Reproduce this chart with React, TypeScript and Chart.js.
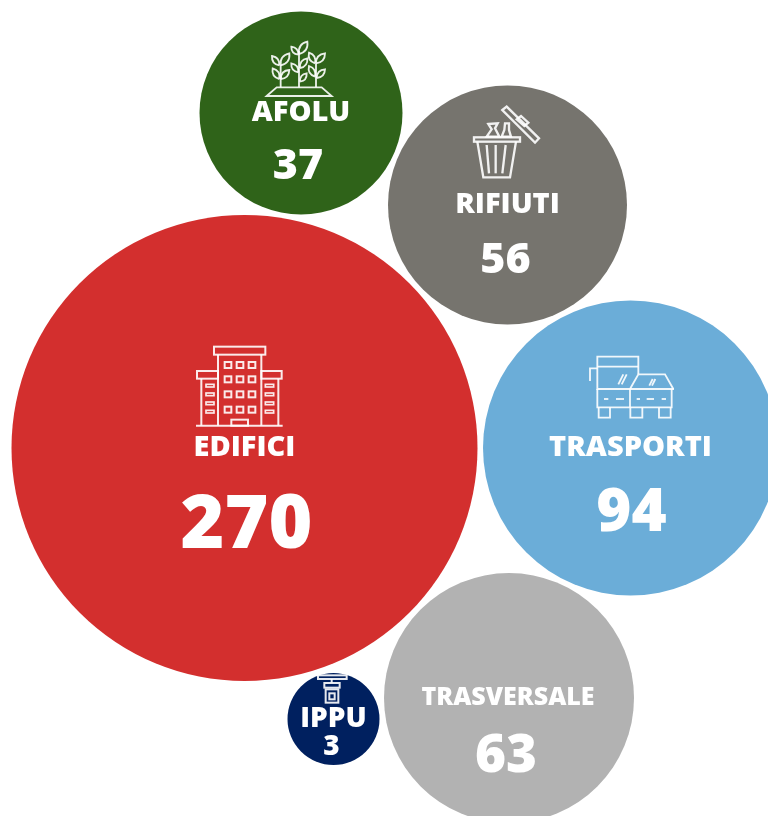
import React, { useEffect, useRef } from "react";
import { Chart, registerables } from "chart.js";

Chart.register(...registerables);

const categories = ["AFOLU", "RIFIUTI", "EDIFICI", "TRASPORTI", "TRASVERSALE", "IPPU"];
const values = [37, 56, 270, 94, 63, 3];
const bubbleX = [301, 507.5, 244.5, 630.5, 509, 333.5];
const bubbleY = [113, 205, 448, 448, 698, 719];
const bubbleR = [101.5, 119.5, 233, 147.5, 125, 46];
const colors = ["#2F6319", "#76746E", "#D32F2E", "#6BADD8", "#B2B2B2", "#00205F"];

type Ctx = CanvasRenderingContext2D;

const labelStyles = [
  { dx: 0, dy: 0, size: 29, vdx: -3, vdy: 54, vsize: 43 },
  { dx: 0, dy: 0, size: 29, vdx: -2, vdy: 56, vsize: 43 },
  { dx: 0, dy: 0, size: 29, vdx: 2, vdy: 79, vsize: 75 },
  { dx: 0, dy: 0, size: 29, vdx: 1, vdy: 66, vsize: 60 },
  { dx: -1, dy: 0, size: 25, vdx: -3, vdy: 59, vsize: 53 },
  { dx: 0, dy: 0, size: 28, vdx: -2, vdy: 28, vsize: 28 },
];

function poly(c: Ctx, pts: number[], close = true) {
  c.beginPath();
  c.moveTo(pts[0], pts[1]);
  for (let i = 2; i < pts.length; i += 2) c.lineTo(pts[i], pts[i + 1]);
  if (close) c.closePath();
  c.stroke();
}

function leaf(c: Ctx, x0: number, y0: number, x1: number, y1: number) {
  const mx = (x0 + x1) / 2;
  const my = (y0 + y1) / 2;
  const nx = -(y1 - y0) * 0.45;
  const ny = (x1 - x0) * 0.45;
  c.beginPath();
  c.moveTo(x0, y0);
  c.quadraticCurveTo(mx + nx, my + ny, x1, y1);
  c.quadraticCurveTo(mx - nx, my - ny, x0, y0);
  c.stroke();
}

function iconAfolu(c: Ctx) {
  c.lineWidth = 5.5;
  poly(c, [230, 198, 260, 172, 395, 172, 425, 198]);
  poly(c, [272, 172, 272, 105], false);
  poly(c, [327, 172, 327, 62], false);
  poly(c, [378, 172, 378, 100], false);
  const leaves = [
    [272, 106, 298, 70], [268, 106, 246, 78], [272, 147, 298, 120], [268, 147, 248, 115],
    [327, 72, 352, 35], [325, 74, 304, 50], [330, 114, 352, 85], [325, 127, 304, 100], [330, 155, 350, 130],
    [378, 100, 405, 70], [375, 100, 357, 68], [380, 144, 405, 118], [375, 140, 357, 108],
  ];
  leaves.forEach((l) => leaf(c, l[0], l[1], l[2], l[3]));
}

function iconRifiuti(c: Ctx) {
  c.lineWidth = 7;
  c.strokeRect(27, 112, 138, 13);
  poly(c, [37, 125, 55, 232, 135, 232, 153, 125], false);
  poly(c, [65, 135, 72, 220], false);
  poly(c, [92, 135, 92, 220], false);
  poly(c, [122, 135, 112, 220], false);
  poly(c, [70, 72, 98, 70, 90, 85, 103, 110, 65, 110, 80, 88]);
  poly(c, [110, 110, 118, 90, 120, 70, 132, 70, 132, 90, 138, 110]);
  poly(c, [112, 30, 125, 20, 222, 115, 210, 128]);
  poly(c, [155, 58, 168, 48, 190, 68, 178, 78]);
}

function iconEdifici(c: Ctx) {
  c.lineWidth = 6;
  c.strokeRect(102, 35, 154, 24);
  poly(c, [114, 59, 114, 272], false);
  poly(c, [244, 59, 244, 272], false);
  c.strokeRect(51, 108, 63, 23);
  c.strokeRect(244, 108, 61, 23);
  poly(c, [64, 131, 64, 272], false);
  poly(c, [295, 131, 295, 272], false);
  poly(c, [48, 272, 308, 272], false);
  c.strokeRect(154, 254, 50, 18);
  [90, 133, 178, 224].forEach((y) => {
    [144, 180, 216].forEach((x) => c.strokeRect(x - 10, y - 9, 20, 18));
  });
  c.lineWidth = 5;
  [152, 178, 205, 230].forEach((y) => {
    c.strokeRect(78, y - 4, 24, 8);
    c.strokeRect(256, y - 4, 25, 8);
  });
}

function iconTrasporti(c: Ctx) {
  c.lineWidth = 5.5;
  poly(c, [150, 132, 52, 132, 52, 35, 175, 35, 175, 88], false);
  poly(c, [52, 65, 175, 65], false);
  poly(c, [52, 70, 30, 70, 30, 108], false);
  poly(c, [52, 132, 52, 187, 275, 187, 275, 132], false);
  poly(c, [150, 132, 175, 88, 255, 88, 280, 132], false);
  poly(c, [150, 132, 282, 132], false);
  poly(c, [150, 132, 150, 187], false);
  poly(c, [56, 187, 56, 218, 90, 218, 90, 187], false);
  poly(c, [151, 187, 151, 218, 187, 218, 187, 187], false);
  poly(c, [237, 187, 237, 218, 272, 218, 272, 187], false);
  [[72, 85], [108, 132], [170, 180], [200, 222], [245, 258]].forEach((d) => poly(c, [d[0], 162, d[1], 162], false));
  [[115, 118, 130, 88], [125, 118, 140, 88], [208, 122, 218, 102], [216, 122, 226, 102]].forEach((s) => poly(c, s, false));
}

function iconIppu(c: Ctx) {
  c.lineWidth = 6;
  c.strokeRect(24, 16, 86, 11);
  poly(c, [65, 27, 65, 38], false);
  c.strokeRect(43, 39, 46, 14);
  c.strokeRect(47, 58, 38, 40);
  c.strokeRect(58, 70, 16, 18);
}

// each icon is drawn in its own 3x local grid; origin is relative to the bubble centre
const icons = [
  { draw: iconAfolu, ox: 190 - 301, oy: 30 - 113 },
  { draw: iconRifiuti, ox: 465 - 507.5, oy: 100 - 205 },
  { draw: iconEdifici, ox: 180 - 244.5, oy: 335 - 448 },
  { draw: iconTrasporti, ox: 580 - 630.5, oy: 345 - 448 },
  null,
  { draw: iconIppu, ox: 310 - 333.5, oy: 670 - 719 },
];

const labelsPlugin = {
  id: "bubbleLabels",
  afterDatasetsDraw(chart: Chart) {
    const c = chart.ctx;
    const meta = chart.getDatasetMeta(0);
    meta.data.forEach((el: any, i: number) => {
      const st = labelStyles[i];
      const icon = icons[i];
      c.save();
      if (icon) {
        c.save();
        c.translate(el.x + icon.ox, el.y + icon.oy);
        c.scale(1 / 3, 1 / 3);
        c.strokeStyle = "rgba(255,255,255,0.9)";
        c.lineJoin = "miter";
        icon.draw(c);
        c.restore();
      }
      c.fillStyle = "#FFFFFF";
      c.textAlign = "center";
      c.textBaseline = "middle";
      c.font = `800 ${st.size}px "Open Sans"`;
      c.fillText(categories[i], el.x + st.dx, el.y + st.dy);
      c.font = `800 ${st.vsize}px "Open Sans"`;
      c.fillText(String(values[i]), el.x + st.vdx, el.y + st.vdy);
      c.restore();
    });
  },
};

export default function App() {
  const ref = useRef<HTMLCanvasElement>(null);
  useEffect(() => {
    document.body.style.margin = "0";
    const chart = new Chart(ref.current!, {
      type: "bubble",
      data: {
        labels: categories,
        datasets: [
          {
            label: "Azioni",
            data: categories.map((_, i) => ({ x: bubbleX[i], y: bubbleY[i], r: bubbleR[i] })),
            backgroundColor: colors,
            borderWidth: 0,
            clip: false,
          } as any,
        ],
      },
      options: {
        responsive: false,
        animation: false,
        layout: { padding: 0, autoPadding: false },
        plugins: { legend: { display: false }, tooltip: { enabled: false } },
        scales: {
          x: { type: "linear", display: false, min: 0, max: 768 },
          y: { type: "linear", display: false, min: 0, max: 816, reverse: true },
        },
      },
      plugins: [labelsPlugin],
    });
    return () => chart.destroy();
  }, []);
  return <canvas ref={ref} width={768} height={816} style={{ display: "block" }} />;
}
